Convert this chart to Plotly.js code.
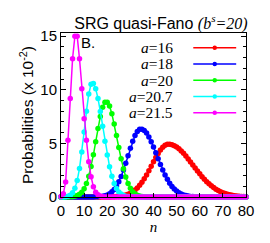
<!DOCTYPE html>
<html><head><meta charset="utf-8">
<script src="https://cdn.plot.ly/plotly-3.0.1.min.js"></script>
<style>html,body{margin:0;padding:0;background:#fff}#c{width:270px;height:243px}</style>
</head><body><div id="c"></div>
<script>
var n = [0,1,2,3,4,5,6,7,8,9,10,11,12,13,14,15,16,17,18,19,20,21,22,23,24,25,26,27,28,29,30,31,32,33,34,35,36,37,38,39,40,41,42,43,44,45,46,47,48,49,50,51,52,53,54,55,56,57,58,59,60,61,62,63,64,65,66,67,68,69,70,71,72,73,74,75,76,77,78,79,80];

var a16 = [0,0,0,0,0,0,0,0,0,0,0,0,0,0,0,0,0.001,0.001,0.002,0.003,
 0.005,0.008,0.014,0.023,0.037,0.057,0.086,0.13,0.18,0.26,
 0.36,0.49,0.65,0.85,1.09,1.38,1.70,2.06,2.46,2.87,
 3.28,3.68,4.06,4.38,4.64,4.82,4.92,4.93,4.88,4.79,
 4.66,4.50,4.30,4.07,3.82,3.55,3.27,2.99,2.71,2.43,
 2.16,1.90,1.66,1.43,1.23,1.04,0.88,0.73,0.61,0.50,
 0.40,0.32,0.26,0.20,0.16,0.12,0.095,0.072,0.055,0.041,0.030];

var a18 = [0,0,0,0,0,0,0,0,0,0,0,0,
 0.0015,0.003,0.006,0.012,0.022,0.040,0.071,0.12,0.197,0.31,
 0.48,0.71,1.03,1.43,1.92,2.51,3.16,3.85,4.54,5.19,
 5.73,6.12,6.32,6.33,6.21,5.96,5.60,5.16,4.66,4.13,
 3.58,3.04,2.53,2.06,1.65,1.29,0.99,0.74,0.55,0.39,
 0.28,0.19,0.13,0.087,0.057,0.036,0.023,0.014,0.009,0.005,
 0.003,0.002,0.001,
 0,0,0,0,0,0,0,0,0,0,0,0,0,0,0,0];

var a20 = [0,0.001,0.002,0.005,0.013,0.030,0.064,0.13,0.25,0.45,
 0.78,1.26,1.94,2.84,3.93,5.15,6.39,7.52,8.38,8.84,
 8.85,8.48,7.77,6.82,5.74,4.62,3.56,2.63,1.86,1.26,
 0.81,0.50,0.30,0.17,0.093,0.048,0.024,0.011,0.005,0.002,0.001,
 0,0,0,0,0,0,0,0,0,0,0,0,0,0,0,0,0,0,0,0,
 0,0,0,0,0,0,0,0,0,0,0,0,0,0,0,0,0,0,0,0];

var a207 = [0.002,0.008,0.024,0.067,0.17,0.39,0.81,1.53,2.66,4.20,
 6.07,7.99,9.61,10.53,10.58,10.10,9.19,7.97,6.60,5.21,
 3.92,2.82,1.93,1.26,0.79,0.47,0.27,0.14,0.074,0.036,
 0.017,0.008,0.003,0.001,
 0,0,0,0,0,0,0,0,0,0,0,0,0,0,0,0,0,0,0,0,0,0,0,0,
 0,0,0,0,0,0,0,0,0,0,0,0,0,0,0,0,0,0,0,0,0,0,0];

var a215 = [0.05,0.3,1.4,5.3,9.2,12.9,15.0,15.0,12.9,10.1,
 7.3,5.3,3.3,1.9,0.96,0.45,0.2,0.08,0.03,0.01,
 0,0,0,0,0,0,0,0,0,0,0,0,0,0,0,0,0,0,0,0,0,0,0,0,0,0,0,0,0,0,
 0,0,0,0,0,0,0,0,0,0,0,0,0,0,0,0,0,0,0,0,0,0,0,0,0,0,0,0,0,0,0];

var names = ['16','18','20','20.7','21.5'];
var colors = ['#ff0000','#0000ff','#00ff00','#00ffff','#ff00ff'];
var series = [a16,a18,a20,a207,a215];

var traces = series.map(function(v,i){
  return {x:n, y:v, type:'scatter', mode:'lines+markers', name:'a='+names[i],
    line:{color:colors[i], width:1.5}, marker:{color:colors[i], size:5.5},
    cliponaxis:false, showlegend:false};
});

var annotations = [];
var shapes = [];
var legY = [0.910,0.811,0.712,0.613,0.514];
names.forEach(function(nm,i){
  annotations.push({xref:'paper', yref:'paper', x:0.615, y:legY[i], xanchor:'right', yanchor:'middle',
    text:'<i>a</i>='+nm, showarrow:false, font:{family:'Liberation Serif', size:15.5, color:'#000'}});
  shapes.push({type:'line', xref:'paper', yref:'paper', x0:0.715, x1:0.947, y0:legY[i], y1:legY[i],
    line:{color:colors[i], width:1.5}});
  shapes.push({type:'circle', xref:'paper', yref:'paper', x0:0.831-0.012, x1:0.831+0.012,
    y0:legY[i]-0.0135, y1:legY[i]+0.0135, fillcolor:colors[i], line:{color:colors[i], width:0}});
});
annotations.push({xref:'paper', yref:'paper', x:0.095, y:0.945, xanchor:'left', yanchor:'middle',
  text:'B.', showarrow:false, font:{family:'Liberation Sans', size:15, color:'#000'}});

var layout = {
  width:270, height:243,
  margin:{l:61, r:24, t:33, b:46},
  paper_bgcolor:'#fff', plot_bgcolor:'#fff',
  font:{family:'Liberation Sans', size:15, color:'#000'},
  title:{text:'SRG quasi-Fano <span style="font-family:Liberation Serif"><i>(b<sup>s</sup>=20)</i></span>',
    font:{family:'Liberation Sans', size:16, color:'#000'},
    xref:'container', x:0.596, xanchor:'center', yref:'container', y:0.905, yanchor:'middle'},
  xaxis:{range:[0,80], dtick:10, tick0:0, ticks:'inside', ticklen:4, tickcolor:'#000',
    showline:true, linecolor:'#000', linewidth:1, mirror:true, showgrid:false, zeroline:false,
    tickfont:{size:15}, title:{text:'<i>n</i>', font:{family:'Liberation Serif', size:15}, standoff:2}},
  yaxis:{range:[0,15.3], dtick:5, tick0:0, ticks:'inside', ticklen:5, tickcolor:'#000',
    minor:{dtick:1, ticks:'inside', ticklen:3, tickcolor:'#000'},
    showline:true, linecolor:'#000', linewidth:1, mirror:'ticks', showgrid:false, zeroline:false,
    tickfont:{size:15}, title:{text:'Probabilities (x 10<sup>-2</sup>)', font:{size:15.5}, standoff:2}},
  annotations:annotations, shapes:shapes
};
Plotly.newPlot('c', traces, layout, {staticPlot:true, displayModeBar:false});
</script></body></html>
